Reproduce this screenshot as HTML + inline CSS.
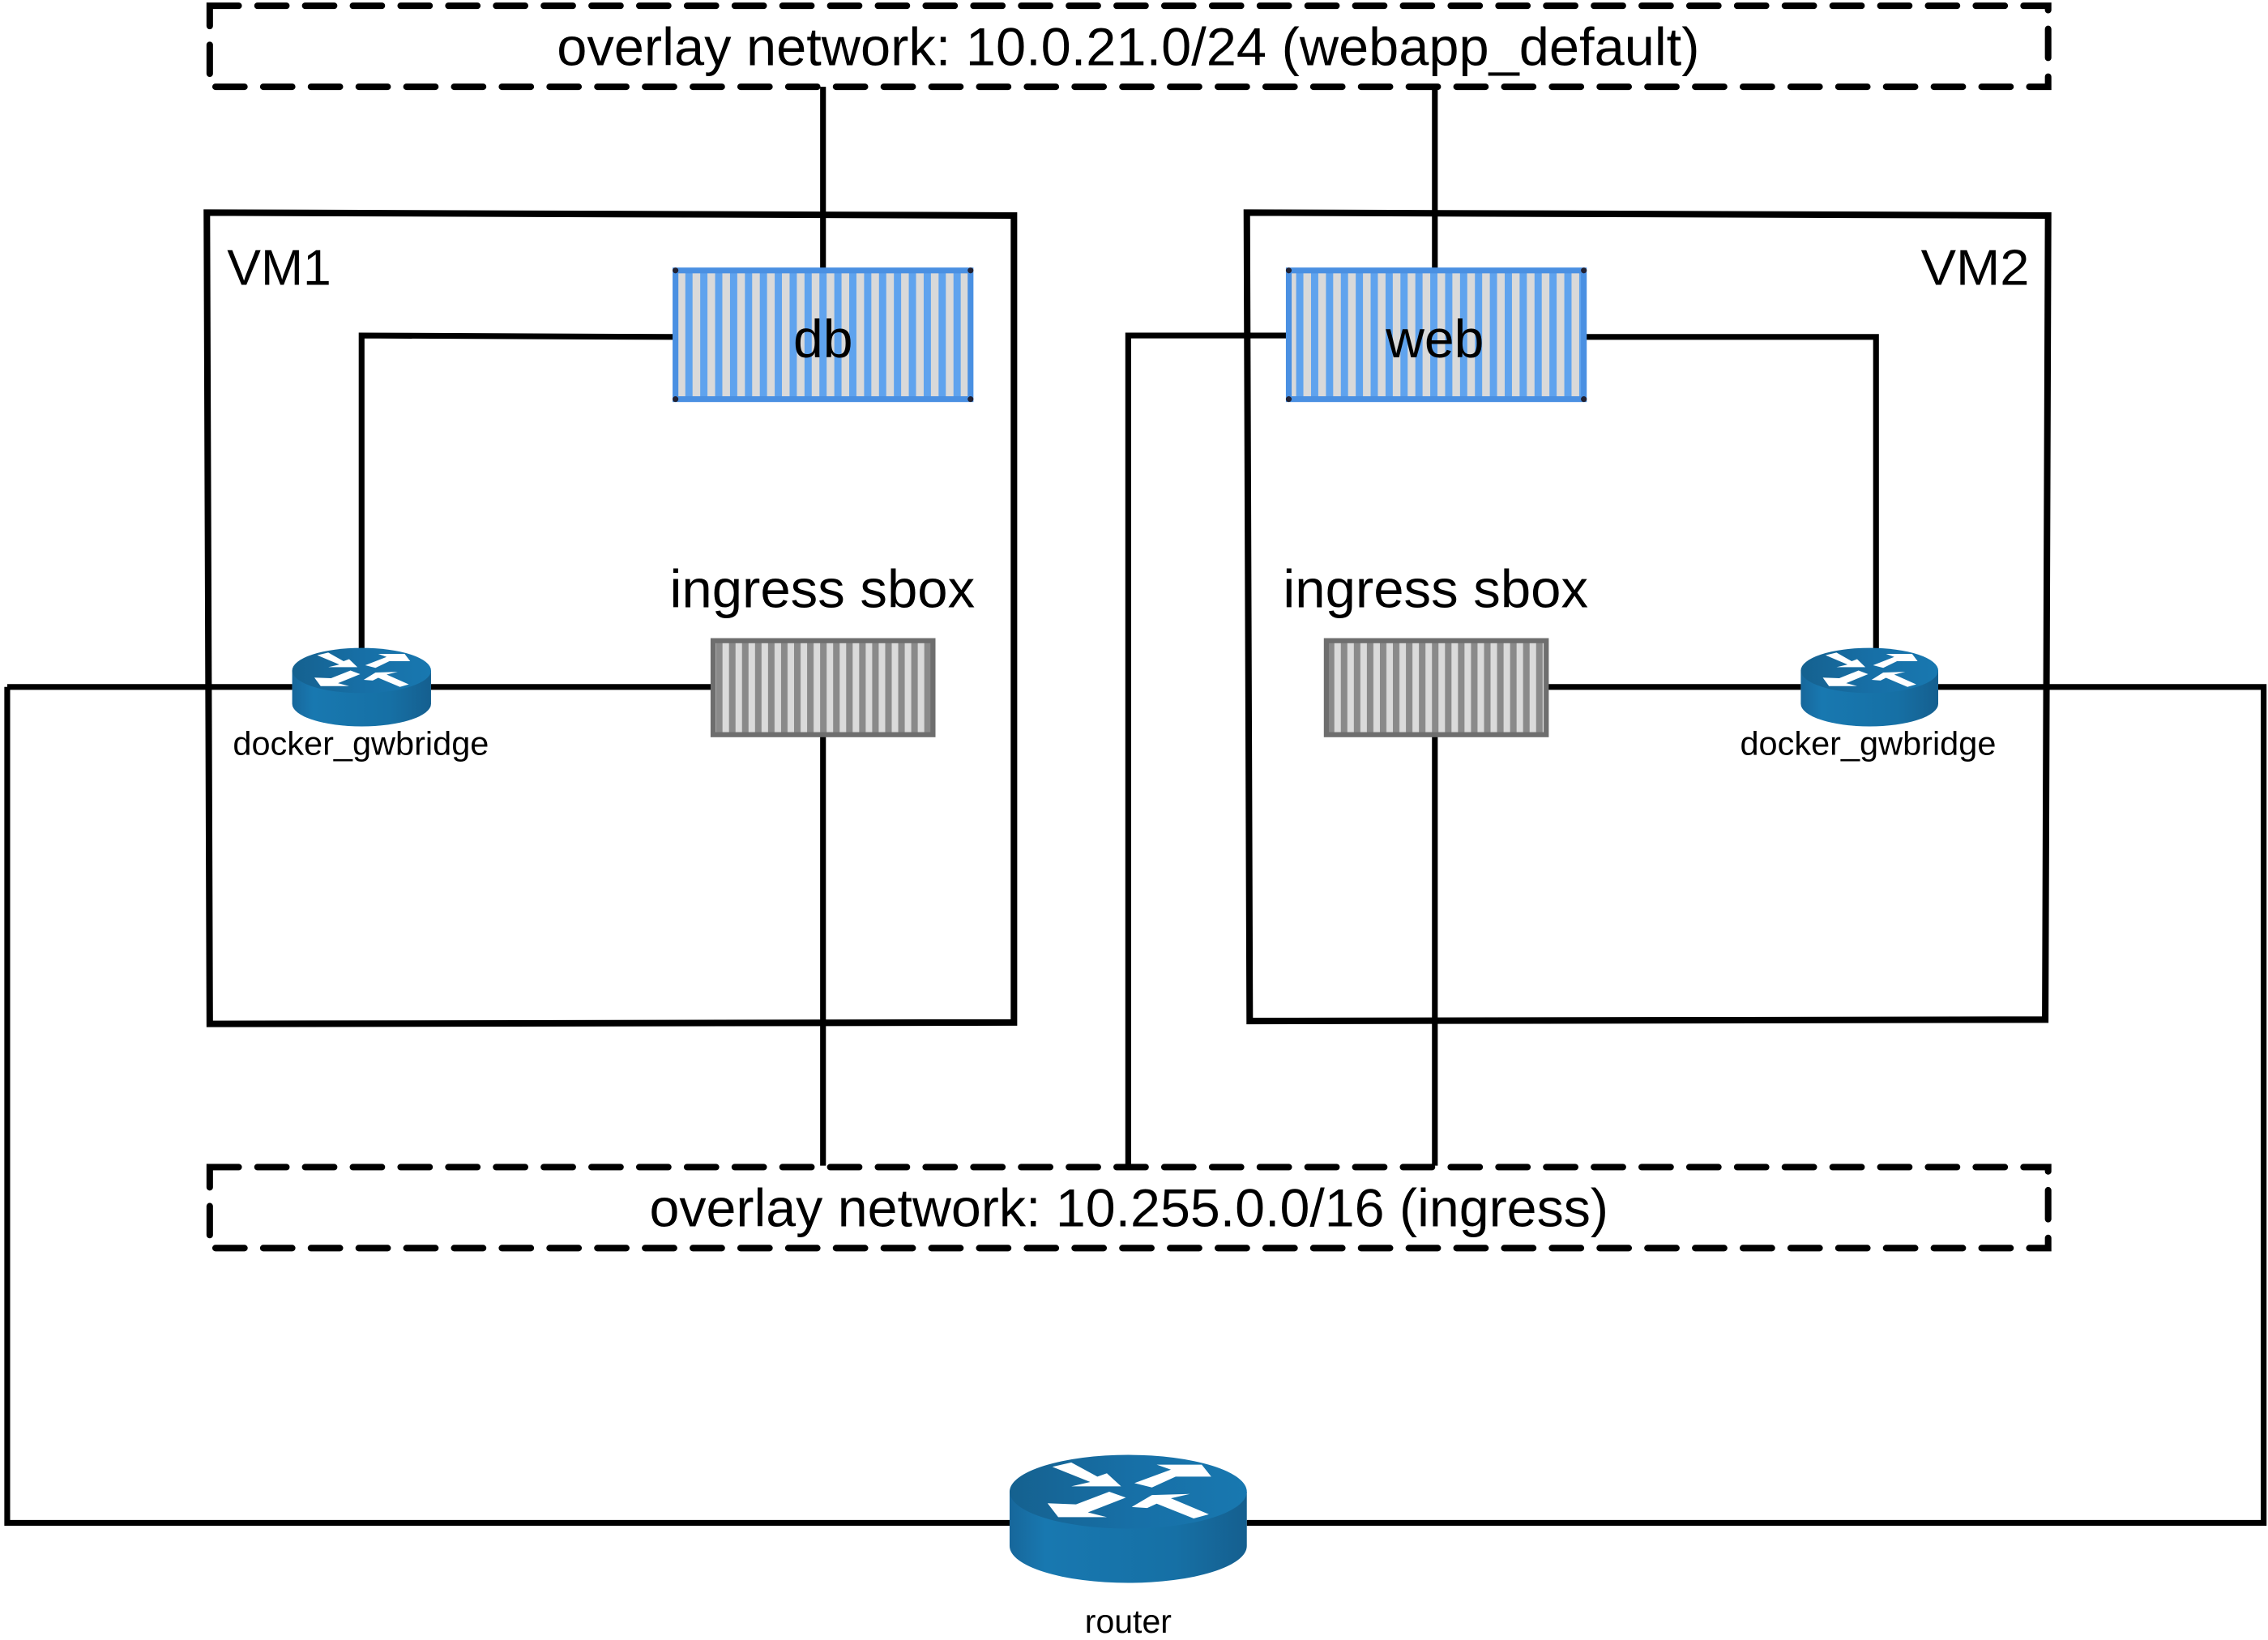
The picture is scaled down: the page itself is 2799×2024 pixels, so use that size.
<!DOCTYPE html>
<html><head><meta charset="utf-8"><style>
html,body{margin:0;padding:0;background:#fff;}
svg{display:block;}
text{font-family:"Liberation Sans",Arial,sans-serif;fill:#000;}
</style></head><body>
<svg width="2799" height="2024" viewBox="0 0 1568 1134" preserveAspectRatio="none" xmlns="http://www.w3.org/2000/svg">
<defs>
<pattern id="pb" x="0" y="0" width="10.3" height="10" patternUnits="userSpaceOnUse">
<rect width="10.3" height="10" fill="#5fa3ee"/><rect x="5" width="5.3" height="10" fill="#d9d9d9"/>
</pattern>
<pattern id="pg" x="0" y="0" width="9" height="10" patternUnits="userSpaceOnUse">
<rect width="9" height="10" fill="#8a8a8a"/><rect x="4.5" width="4.5" height="10" fill="#dadada"/>
</pattern>
<linearGradient id="rg" x1="0" x2="1" y1="0" y2="0">
<stop offset="0" stop-color="#17679b"/><stop offset="0.15" stop-color="#1878b0"/><stop offset="0.7" stop-color="#1670a5"/><stop offset="1" stop-color="#155f8f"/>
</linearGradient>
<linearGradient id="rt" x1="0" x2="1" y1="0" y2="0">
<stop offset="0" stop-color="#15618f"/><stop offset="0.5" stop-color="#176fa6"/><stop offset="1" stop-color="#1878b0"/>
</linearGradient>
<g id="router">
<path d="M0,17 L0,42 A50,17 0 0 0 100,42 L100,17 Z" fill="url(#rg)"/>
<ellipse cx="50" cy="17" rx="50" ry="17" fill="url(#rt)"/>
<g fill="#fff">
<polygon points="18,5.5 26,3.5 37,10 41,8.5 47,14.5 26,14.5 34,12.5"/>
<polygon points="52.6,13 68,6.8 62,4.5 81,4.5 85,10 77,10 70,10 60,15"/>
<polygon points="16,22.3 28,22.8 42,17 49,19.7 33,26.5 41,28.7 20.5,28.7"/>
<polygon points="51.5,24 60,18.5 76,18 68,20 84,27.4 77.6,29.3 62,22.5 58,24.5"/>
</g>
</g>
</defs>

<g stroke="#000" stroke-width="4.5" fill="none" stroke-linecap="round">
<rect x="145" y="4" width="1271" height="56" stroke-dasharray="20 13"/>
<rect x="145" y="807" width="1271" height="56" stroke-dasharray="20 13"/>
<path d="M143,147 L701,149 L701,707 L145,708 Z"/>
<path d="M862,147 L1416,149 L1414,705 L864,706 Z"/>
</g>

<g stroke="#000" stroke-width="4" fill="none">
<path d="M569,60 L569,186"/>
<path d="M992,60 L992,186"/>
<path d="M466,233 L250,232 L250,452"/>
<path d="M1096,233 L1297,233 L1297,452"/>
<path d="M890,232 L780,232 L780,806"/>
<path d="M5,475 L202,475"/>
<path d="M298,475 L492,475"/>
<path d="M1070,475 L1245,475"/>
<path d="M1340,475 L1565,475 L1565,1053 L862,1053"/>
<path d="M5,475 L5,1053 L698,1053"/>
<path d="M569,509 L569,806"/>
<path d="M992,509 L992,806"/>
</g>

<rect x="467" y="187" width="204" height="89" fill="url(#pb)" stroke="#4a90e2" stroke-width="4"/>
<rect x="891" y="187" width="204" height="89" fill="url(#pb)" stroke="#4a90e2" stroke-width="4"/>
<g fill="#223">
<circle cx="467" cy="187" r="2"/><circle cx="671" cy="187" r="2"/><circle cx="467" cy="276" r="2"/><circle cx="671" cy="276" r="2"/>
<circle cx="891" cy="187" r="2"/><circle cx="1095" cy="187" r="2"/><circle cx="891" cy="276" r="2"/><circle cx="1095" cy="276" r="2"/>
</g>
<rect x="493" y="443" width="152" height="65" fill="url(#pg)" stroke="#6e6e6e" stroke-width="3.5"/>
<rect x="917" y="443" width="152" height="65" fill="url(#pg)" stroke="#6e6e6e" stroke-width="3.5"/>

<use href="#router" transform="translate(202,448) scale(0.96,0.92)"/>
<use href="#router" transform="translate(1245,448) scale(0.95,0.92)"/>
<use href="#router" transform="translate(698,1006) scale(1.64,1.5)"/>

<text x="385" y="45" font-size="37" textLength="790" lengthAdjust="spacingAndGlyphs">overlay network: 10.0.21.0/24 (webapp_default)</text>
<text x="449" y="848" font-size="37" textLength="663" lengthAdjust="spacingAndGlyphs">overlay network: 10.255.0.0/16 (ingress)</text>
<text x="157" y="197" font-size="35" textLength="72" lengthAdjust="spacingAndGlyphs">VM1</text>
<text x="1328" y="197" font-size="35" textLength="75" lengthAdjust="spacingAndGlyphs">VM2</text>
<text x="569" y="247" font-size="37" text-anchor="middle">db</text>
<text x="992" y="247" font-size="37" text-anchor="middle">web</text>
<text x="463" y="420" font-size="37" textLength="211" lengthAdjust="spacingAndGlyphs">ingress sbox</text>
<text x="887" y="420" font-size="37" textLength="211" lengthAdjust="spacingAndGlyphs">ingress sbox</text>
<text x="161" y="522" font-size="23" textLength="177" lengthAdjust="spacingAndGlyphs">docker_gwbridge</text>
<text x="1203" y="522" font-size="23" textLength="177" lengthAdjust="spacingAndGlyphs">docker_gwbridge</text>
<text x="750" y="1129" font-size="23" textLength="60" lengthAdjust="spacingAndGlyphs">router</text>
</svg>
</body></html>
